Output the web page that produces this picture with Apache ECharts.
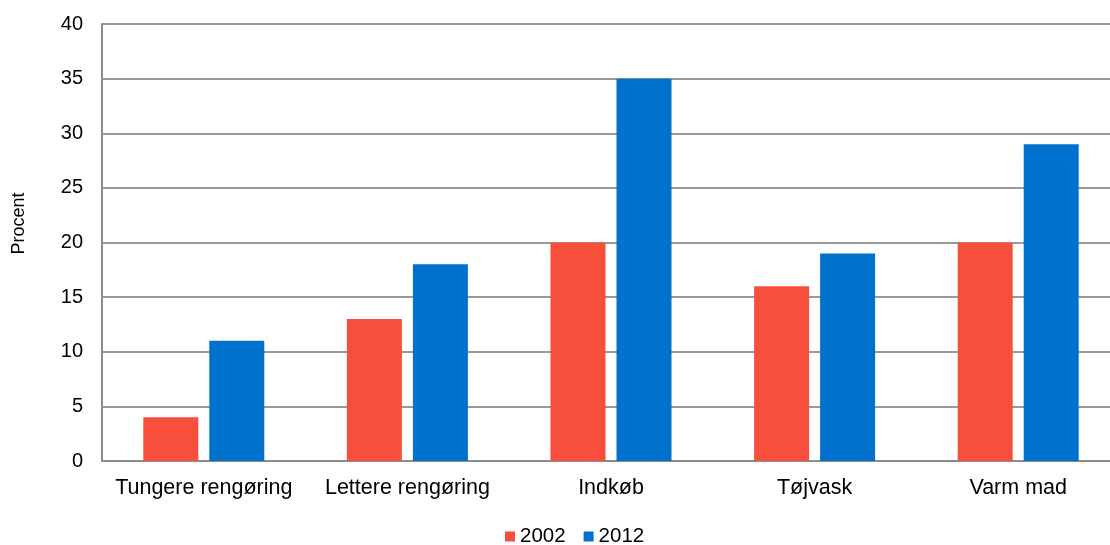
<!DOCTYPE html>
<html>
<head>
<meta charset="utf-8">
<script src="https://cdn.jsdelivr.net/npm/echarts@6/dist/echarts.min.js"></script>
<style>
  html, body { margin: 0; padding: 0; background: #fff; overflow: hidden; }
  /* canvas is a little wider than the window so the plot runs off the right edge */
  #chart { width: 1120px; height: 545px; }
</style>
</head>
<body>
<div id="chart"></div>
<script>
// Share of respondents doing each household task (percent)
const categories = ['Tungere rengøring', 'Lettere rengøring', 'Indkøb', 'Tøjvask', 'Varm mad'];
const seriesNames = ['2002', '2012'];
const values2002 = [4, 13, 20, 16, 20];
const values2012 = [11, 18, 35, 19, 29];
const yTicks = { min: 0, max: 40, interval: 5 };

const FONT = '"Liberation Sans", Arial, sans-serif';
const chart = echarts.init(document.getElementById('chart'));
chart.setOption({
  animation: false,
  textStyle: { fontFamily: FONT, color: '#000' },
  legend: {
    data: seriesNames,
    top: 521,
    left: 500,
    itemWidth: 10,
    itemHeight: 10,
    itemGap: 18,
    icon: 'rect',
    textStyle: { fontFamily: FONT, fontSize: 20.5, color: '#000' }
  },
  grid: { left: 102, right: 0, top: 24, height: 437, containLabel: false },
  xAxis: {
    type: 'category',
    data: categories,
    axisLine: { lineStyle: { color: '#8c8c8c', width: 2 } },
    axisTick: { show: false },
    axisLabel: { fontFamily: FONT, fontSize: 21.5, color: '#000', margin: 16, interval: 0 }
  },
  yAxis: {
    type: 'value',
    min: yTicks.min,
    max: yTicks.max,
    interval: yTicks.interval,
    name: 'Procent',
    nameLocation: 'middle',
    nameGap: 74,
    nameTextStyle: { fontFamily: FONT, fontSize: 18, color: '#000', padding: [0, 0, 0, 38] },
    axisLine: { show: true, lineStyle: { color: '#8c8c8c', width: 2 } },
    axisTick: { show: false },
    axisLabel: { fontFamily: FONT, fontSize: 20, color: '#000', margin: 19 },
    splitLine: { lineStyle: { color: '#999999', width: 2 } }
  },
  series: [
    {
      name: seriesNames[0],
      type: 'bar',
      data: values2002,
      barWidth: 55,
      barGap: '20%',
      itemStyle: { color: '#F84E3C' }
    },
    {
      name: seriesNames[1],
      type: 'bar',
      data: values2012,
      barWidth: 55,
      barGap: '20%',
      itemStyle: { color: '#0072CE' }
    }
  ]
});
</script>
</body>
</html>
